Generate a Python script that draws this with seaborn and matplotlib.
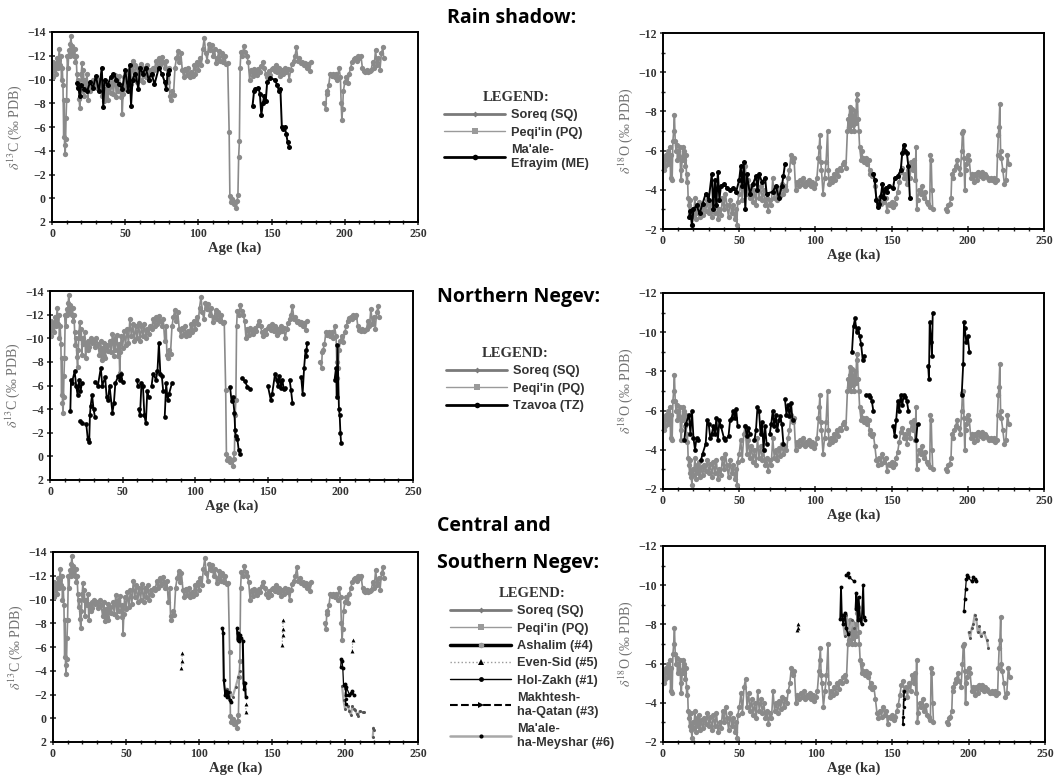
import numpy as np
import pandas as pd
import matplotlib
matplotlib.use('Agg')
import matplotlib.pyplot as plt
from matplotlib.lines import Line2D
from matplotlib.ticker import MultipleLocator
import seaborn as sns

nan = np.nan

# ---- Soreq (SQ) : gray curve 0-177 ka ----
sq_age_c = [0, 0.5, 1, 1.5, 2, 3, 3.5, 4, 5, 5.5, 6, 6.5, 7, 7.5, 8, 8.3, 8.6, 9, 9.3, 9.6, 10, 10.5, 11, 11.5, 12, 12.5,
            13, 13.5, 14, 15, 15.5, 16, 16.5, 17, 17.5, 18, 18.5, 19, 19.5, 20, 20.5, 21, 21.5, 22, 22.5, 23, 24, 24.5,
            25, 26, 26.5, 27, 28, 29, 30, 31, 32, 33, 34, 35, 35.5, 36, 37, 37.5, 38, 39, 40, 41, 42, 43, 44, 44.5, 45,
            46, 47, 47.5, 48, 48.5, 49, 50, 51, 52, 53, 54, 55, 56, 57, 58, 59, 60, 61, 62, 63, 64, 65, 66, 67, 68, 69,
            70, 71, 72, 73, 74, 75, 76, 77, 78, 79, 80, 80.5, 81, 82, 83, 84, 85, 86, 87, 88, 89, 90, 91, 92, 93, 94,
            95, 96, 97, 98, 99, 100, 101, 102, 103, 104, 105, 106, 107, 108, 109, 110, 111, 112, 113, 114, 115, 116,
            117, 118, 119, 120, 121, 121.5, 122, 123, 124, 125, 126, 126.5, 127, 127.5, 128, 128.5, 129, 130, 131,
            132, 133, 134, 135, 136, 137, 138, 139, 140, 141, 142, 143, 144, 145, 146, 147, 148, 149, 150, 151, 152,
            153, 154, 155, 156, 157, 158, 159, 160, 161, 162, 163, 164, 165, 166, 167, 168, 169, 170, 171, 172, 173,
            174, 175, 176, 177]
sq_d13c = [-11.0, -10.2, -11.5, -10.8, -11.3, -10.5, -11.8, -11.0, -12.6, -11.2, -12.0, -10.0, -11.0, -9.5, -5.2, -8.3,
           -4.5, -3.7, -5.0, -6.8, -8.3, -12.0, -11.0, -12.5, -12.0, -13.0, -13.7, -12.2, -12.8, -12.0, -12.6, -11.5,
           -12.0, -10.5, -9.4, -10.0, -8.4, -7.6, -9.0, -10.5, -11.4, -10.0, -10.8, -8.6, -10.0, -9.5, -10.5, -8.3,
           -9.6, -9.0, -9.8, -9.3, -10.0, -9.6, -9.8, -9.3, -10.0, -9.5, -8.6, -9.8, -8.2, -9.2, -8.5, -9.6, -8.3,
           -9.4, -8.9, -9.8, -8.8, -10.4, -8.5, -10.0, -9.0, -10.3, -8.5, -9.5, -7.1, -8.8, -10.2, -9.2, -10.6, -9.4,
           -10.8, -9.6, -11.6, -10.2, -11.2, -9.8, -11.0, -10.0, -11.3, -9.8, -11.0, -10.2, -11.2, -10.0, -10.8,
           -10.4, -11.0, -10.8, -11.6, -11.0, -11.8, -11.2, -11.9, -11.5, -11.0, -11.6, -9.8, -11.0, -8.6, -8.3,
           -9.0, -8.7, -11.0, -11.8, -12.4, -11.5, -12.2, -10.8, -10.2, -10.9, -10.4, -11.0, -10.2, -10.6, -10.3,
           -11.2, -10.5, -11.5, -10.8, -11.8, -11.2, -12.6, -13.5, -12.2, -11.6, -13.0, -12.5, -12.9, -12.0, -12.6,
           -11.4, -11.8, -12.4, -11.6, -12.2, -11.5, -12.0, -11.3, -11.4, -5.6, -0.2, 0.3, 0.1, 0.5, 0.3, 0.8, 0.2,
           -0.3, -3.5, -4.8, -11.0, -12.3, -12.0, -12.8, -12.3, -12.0, -11.5, -10.0, -10.8, -10.3, -10.9, -10.6,
           -10.4, -10.9, -10.6, -11.1, -11.5, -11.0, -10.5, -10.2, -10.7, -10.4, -10.9, -11.0, -10.7, -11.2, -10.6,
           -11.0, -10.3, -10.8, -10.5, -11.0, -10.6, -10.9, -10.0, -10.8, -11.3, -11.6, -12.0, -12.7, -11.6, -11.8,
           -11.4, -11.5, -11.2, -11.4, -11.0, -11.3, -10.7, -11.5]

sq_age_o = [0, 0.5, 1, 1.5, 2, 3, 3.5, 4, 4.5, 5, 5.5, 6, 6.5, 7, 7.5, 8, 8.5, 9, 9.5, 10, 10.5, 11, 11.5, 12, 12.5, 13,
            13.5, 14, 14.5, 15, 15.5, 16, 16.5, 17, 17.5, 18, 18.5, 19, 19.5, 20, 21, 21.5, 22, 23, 23.5, 24, 25, 26,
            27, 28, 29, 30, 31, 32, 33, 34, 35, 36, 37, 38, 39, 40, 41, 42, 43, 44, 45, 46, 47, 48, 48.5, 49, 50, 51,
            52, 53, 54, 55, 56, 57, 58, 59, 60, 61, 62, 63, 64, 65, 66, 67, 68, 69, 70, 71, 72, 73, 74, 75, 76, 77,
            78, 79, 80, 81, 82, 83, 84, 85, 86, 87, 88, 89, 90, 91, 92, 93, 94, 95, 96, 97, 98, 99, 100, 101, 102,
            102.5, 103, 103.5, 104, 105, 106, 107, 108, 108.5, 109, 110, 111, 112, 113, 114, 115, 116, 117, 118, 119,
            120, 121, 121.5, 122, 122.5, 123, 123.5, 124, 124.5, 125, 125.5, 126, 126.5, 127, 127.5, 128, 128.5, 129,
            130, 130.5, 131, 132, 133, 134, 135, 135.5, 136, 137, 138, 139, 140, 141, 142, 143, 144, 145, 146, 147,
            148, 149, 150, 151, 152, 153, 154, 155, 156, 157, 158, 159, 160, 161, 162, 163, 164, 165, 165.5, 166,
            166.5, 167, 168, 169, 170, 171, 172, 173, 174, 175, 175.5, 176, 176.5, 177]
sq_d18o = [-5.5, -5.0, -5.6, -5.2, -5.8, -5.3, -6.0, -5.5, -6.2, -4.6, -5.8, -4.5, -6.5, -7.0, -7.8, -6.5, -6.0, -6.3,
           -5.5, -6.0, -5.7, -6.2, -5.0, -4.5, -5.5, -6.2, -5.5, -6.0, -5.2, -5.8, -4.4, -4.8, -3.6, -3.2, -2.8, -3.5,
           -2.6, -2.2, -3.0, -2.7, -3.6, -2.5, -3.2, -2.8, -3.4, -2.6, -3.1, -2.7, -3.2, -2.9, -3.5, -2.8, -3.3, -2.6,
           -3.4, -2.8, -3.5, -2.5, -3.0, -2.7, -3.6, -3.0, -3.8, -3.2, -2.6, -3.5, -2.8, -3.2, -2.5, -3.0, -2.2, -3.4,
           -3.8, -4.5, -3.5, -4.8, -5.2, -3.8, -4.5, -3.6, -4.2, -3.4, -4.0, -3.2, -4.6, -3.6, -4.2, -3.5, -4.0, -3.2,
           -3.6, -2.9, -3.5, -3.2, -4.6, -3.6, -4.0, -3.5, -4.1, -3.7, -4.3, -3.8, -4.2, -4.0, -4.6, -5.0, -5.8, -5.4,
           -5.6, -4.0, -4.4, -4.2, -4.5, -4.3, -4.6, -4.2, -4.4, -4.3, -4.5, -4.2, -4.4, -4.1, -4.3, -4.6, -5.6, -6.2,
           -6.8, -5.4, -5.0, -3.8, -4.6, -5.4, -7.0, -5.0, -4.3, -4.6, -4.4, -4.8, -4.5, -5.0, -4.7, -5.1, -5.0, -5.3,
           -5.4, -5.1, -7.0, -7.6, -7.2, -8.2, -7.8, -7.0, -8.1, -7.3, -7.8, -7.0, -8.0, -7.4, -8.6, -8.9, -7.6, -7.0,
           -6.2, -5.5, -6.0, -5.6, -5.4, -5.6, -5.3, -5.5, -4.8, -5.0, -4.7, -4.8, -4.2, -3.5, -3.2, -3.6, -3.3, -3.8,
           -3.4, -3.6, -2.9, -3.3, -3.2, -3.4, -3.1, -3.3, -3.6, -3.9, -4.4, -4.9, -5.1, -4.6, -4.8, -4.3, -5.0, -4.6,
           -5.4, -5.0, -5.5, -4.5, -6.2, -3.0, -3.5, -4.0, -3.8, -4.2, -3.6, -3.9, -3.4, -3.3, -3.1, -5.8, -5.5, -4.0,
           -3.0]

# ---- Peqi'in (PQ) : gray curve 186-227 ka ----
pq_age_c = [186, 187, 187.5, 188, 189, 190, 191, 192, 193, 194, 195, 196, 197, 197.5, 198, 198.5, 199, 200, 201, 202,
            203, 204, 205, 206, 207, 208, 209, 210, 211, 212, 213, 214, 215, 216, 217, 218, 219, 220, 221, 222, 223,
            224, 225, 226, 226.5]
pq_d13c = [-8.0, -7.5, -8.8, -9.0, -9.5, -10.5, -10.3, -10.5, -10.2, -10.5, -10.0, -11.0, -10.2, -8.0, -6.6, -7.5,
           -9.0, -9.8, -10.2, -9.7, -10.5, -11.0, -11.5, -11.7, -11.8, -11.6, -12.0, -11.8, -12.0, -11.0, -10.7, -10.6,
           -10.8, -10.6, -10.7, -10.8, -11.5, -11.0, -12.5, -11.2, -11.8, -10.8, -12.2, -12.7, -11.8]
pq_age_o = [186, 186.5, 187, 188, 189, 189.5, 190, 191, 192, 193, 194, 195, 196, 196.5, 197, 197.5, 198, 198.5, 199,
            200, 201, 202, 203, 204, 205, 206, 207, 208, 209, 210, 211, 212, 213, 214, 215, 216, 217, 218, 219, 219.5,
            220, 220.5, 221, 221.5, 222, 223, 224, 225, 226, 227]
pq_d18o = [-3.0, -2.9, -3.2, -3.3, -3.6, -4.8, -4.6, -5.0, -5.2, -5.5, -5.1, -4.8, -6.0, -6.9, -7.0, -5.6, -4.0, -5.0,
           -5.3, -5.8, -5.5, -4.6, -4.8, -4.4, -4.8, -4.5, -4.9, -4.7, -4.9, -4.6, -4.8, -4.7, -4.6, -4.5, -4.6, -4.5,
           -4.6, -4.4, -4.5, -5.8, -6.8, -7.2, -8.4, -6.0, -5.6, -5.0, -4.3, -4.5, -5.8, -5.3]

# ---- Ma'ale-Efrayim (ME) ----
me_age_c = [17, 18, 19, 20, 22, 24, 26, 28, 30, 32, 34, 35, 36, 38, 40, 42, 44, 46, 48, 50, 52, 53, 54, 55, 57, 59, 60,
            62, 64, 66, 68, 70, 73, 75, 77, 78, 79, 80, nan,
            137, 138, 139, 141, 142, 143, 144, 145, 146, 147, 149, 152, 154, 155, 156, 157, 158, 159, 160, 161, 162]
me_d13c = [-9.7, -9.3, -8.6, -9.5, -9.2, -9.0, -9.8, -9.3, -10.3, -9.0, -11.0, -7.7, -10.0, -9.5, -10.2, -10.5, -10.0,
           -9.6, -9.2, -10.8, -9.0, -11.2, -7.8, -10.0, -10.5, -9.2, -11.0, -10.5, -11.0, -10.0, -10.5, -9.6, -11.0,
           -10.5, -9.8, -9.2, -10.5, -10.8, nan,
           -7.8, -9.0, -9.2, -9.3, -8.8, -7.0, -8.0, -8.6, -8.2, -9.8, -10.1, -10.0, -9.5, -9.0, -9.2, -6.0, -5.8,
           -6.0, -5.4, -4.7, -4.3]
me_age_o = [17, 18, 19, 20, 22, 24, 26, 28, 30, 32, 33, 34, 35, 36, 37, 38, 40, 42, 44, 46, 48, 50, 51, 52, 53, 54, 55,
            57, 59, 61, 62, 63, 65, 67, 68, 72, 74, 76, 78, 79, 80, nan,
            138, 139, 140, 141, 142, 143, 144, 145, 146, 147, 148, 151, 152, 154, 156, 157, 158, 159, 160, 161, 162]
me_d18o = [-2.6, -2.9, -2.2, -3.0, -3.2, -2.8, -3.3, -3.8, -3.5, -4.8, -3.0, -4.5, -3.2, -4.9, -3.5, -4.2, -4.3, -4.1,
           -4.0, -4.1, -3.9, -4.5, -5.2, -4.2, -5.4, -3.0, -4.8, -3.8, -4.3, -4.7, -4.0, -4.8, -4.4, -4.6, -3.8, -3.9,
           -4.2, -3.6, -4.2, -4.7, -5.3, nan,
           -4.8, -4.5, -3.5, -3.1, -3.3, -3.7, -4.3, -3.6, -4.1, -3.9, -4.2, -4.1, -4.6, -4.7, -5.0, -5.9, -6.3, -6.0,
           -5.9, -5.2, -3.6]

# ---- Tzavoa (TZ) ----
tz_age_c = [14, 14.5, 15, 17, 18, 19, 20, 21, 22, nan, 21, 22, nan,
            25, 26, 27, 27.5, 28, 29, 30, 31, nan,
            31, 33, 35, 36, 38, 39, 40, 41, 43, 44, 45, 47, 48, 49, 50, nan, 60, 60.5, nan,
            61, 62, 63, 64, 65, 66, 67, 68, nan, 70, 71, 73, 74, 75, 76, 77, 78, nan,
            79, 80, 81, 82, 84, nan, 124, 125, 126, 127, 127.5, 128, 129, 130, 131, nan,
            132, 134, 136, 138, nan, 150, 152, 153, 155, 156, 157, 158, 159, 160, 161, 162, nan,
            165, 166, 167, nan, 173, 174, 175, 176, 176.5, 177, nan,
            196, 197, 197.5, 198, 199, 199.5, 200, 200.5]
tz_d13c = [-3.8, -6.5, -6.2, -7.2, -6.0, -5.2, -6.5, -5.5, -6.2, nan, -3.0, -2.8, nan,
           -2.7, -1.5, -1.2, -3.5, -4.3, -5.2, -4.0, -3.3, nan,
           -6.3, -6.0, -7.5, -6.0, -6.7, -5.0, -4.8, -6.0, -3.7, -4.5, -6.2, -6.8, -6.5, -7.0, -6.3, nan, -6.5, -6.0,
           nan,
           -4.0, -3.5, -6.2, -6.0, -3.5, -2.8, -5.5, -5.0, nan, -6.0, -7.0, -6.5, -7.2, -9.6, -7.0, -6.8, -5.5, nan,
           -3.3, -6.2, -4.8, -5.3, -6.2, nan, -5.9, -4.7, -5.0, -3.7, -2.2, -1.7, -1.5, -0.5, -0.2, nan,
           -6.6, -6.4, -5.9, -5.7, nan, -6.0, -4.8, -5.3, -7.0, -6.5, -6.0, -6.8, -5.8, -6.5, -5.7, -5.8, nan,
           -6.5, -5.6, -4.5, nan, -6.7, -5.3, -7.5, -9.0, -8.5, -9.6, nan,
           -6.5, -7.5, -5.0, -9.4, -4.0, -3.5, -2.0, -1.1]
tz_age_o = [14, 15, 17, 18, 19, 20, 21, 22, 23, nan,
            25, 26, 28, 29, 30, 31, 32, 33, 34, 35, 36, 37, 38, 40, 41, 43, 44, 45, 46, 47, 48, 49, nan,
            54, 55, 56, 57, nan, 60, 61, 62, 63, 64, 65, 66, 67, 68, nan,
            70, 71, 72, 73, 74, 75, 76, 77, 78, 79, nan, 80, 81, 82, 83, 84, 85, nan,
            124, 125, 126, 127, 128, 129, 130, 131, 132, nan, 133, 135, 136, 137, 138, nan,
            151, 152, 153, 154, 155, 156, 157, 158, 159, 160, 161, nan, 166, 167, nan,
            174, 174.5, 175, 176, 176.5, 177, nan, 196, 197, 197.5, 198, 199, 200, 201]
tz_d18o = [-4.5, -5.3, -5.8, -4.8, -6.0, -4.6, -4.0, -4.6, -4.5, nan,
           -3.5, -3.8, -4.3, -5.5, -5.3, -4.6, -4.8, -5.2, -4.8, -5.6, -4.5, -5.5, -5.2, -4.6, -4.5, -4.7, -5.5, -5.6,
           -6.0, -5.6, -6.1, -5.2, nan,
           -5.2, -4.7, -5.1, -4.8, nan, -4.5, -5.0, -6.2, -6.0, -4.8, -5.4, -4.0, -5.2, -4.3, nan,
           -4.8, -5.3, -6.0, -5.2, -5.8, -5.0, -5.5, -5.7, -5.3, -4.3, nan, -6.6, -5.8, -6.3, -5.7, -6.4, -5.5, nan,
           -9.0, -10.3, -10.7, -10.0, -10.2, -9.8, -9.4, -8.6, -8.8, nan, -6.8, -6.8, -6.7, -6.5, -6.0, nan,
           -5.2, -4.7, -5.5, -6.5, -6.0, -6.8, -6.3, -6.8, -6.7, -6.5, -6.0, nan, -4.5, -5.3, nan,
           -8.3, -7.6, -10.5, -9.5, -8.8, -11.0, nan, -6.8, -8.4, -10.5, -10.2, -9.5, -9.8, -9.0]

# ---- Central and Southern Negev sites ----
ash_age_c = [116, 116.5, 117, 118, 118.5, 119, 120, 121, 122, nan,
             126, 126.5, 127, 127.5, 128, 129, 130, 130.5, 131, 131.5, 132]
ash_d13c = [-7.6, -7.2, -3.2, -2.0, -2.3, -1.8, -2.2, -1.5, -1.4, nan,
            -7.6, -6.6, -7.2, -6.5, -7.0, -6.8, -6.5, -3.0, -2.5, -3.0, -1.8]
ash_age_o = [116, 116.5, 117, 118, 119, 120, 121, nan,
             126, 126.5, 127, 127.5, 128, 129, 130, 131, 131.5, 132]
ash_d18o = [-8.3, -9.9, -8.5, -8.0, -8.6, -7.8, -7.5, nan,
            -8.8, -9.6, -9.0, -8.2, -9.4, -8.3, -8.0, -10.0, -8.4, -8.2]

es_age_c = [88, 88.3, 88.6, nan, 132, 132.2, nan, 157, 157.2, 157.4, 157.6, nan, 205, 205.3]
es_d13c = [-4.2, -4.8, -5.5, nan, -0.5, -1.2, nan, -6.2, -7.0, -7.5, -8.3, nan, -5.7, -6.6]
es_age_o = [88, 88.3, 88.5]
es_d18o = [-7.7, -8.0, -7.8]

hz_age_c = [197, 197.5, 198, 198.5, 199, 200, 200.5, 201, 203, 204, 205, 206]
hz_d13c = [-4.3, -5.0, -4.8, -4.2, -2.8, -2.9, -2.0, -2.6, -2.0, -2.1, -2.3, -2.0]
hz_age_o = [120, 121, 122, 125, nan, 197, 197.5, 198, 198.5, 199, 199.5, 202, 203, 204, 205]
hz_d18o = [-10.5, -10.6, -10.4, -10.2, nan, -8.7, -9.3, -9.8, -10.3, -10.5, -10.4, -10.2, -10.4, -10.3, -10.2]

mq_age_c = [200, 200.5, 201]
mq_d13c = [-2.8, -1.2, -1.6]
mq_age_o = [157, 157.2, 157.4, 157.6, 157.8]
mq_d18o = [-2.9, -3.3, -3.8, -4.2, -4.6]

mm_age_c = [118, 119, 121, 123, 125, 127, 128, nan,
            198, 199, 200, 201, 202, 203, 204, 205, 206, 207, 208, 209, 210, 212, 213, nan, 219, 219.5, 220]
mm_d13c = [-2.0, -2.5, -2.2, -1.8, -2.6, -3.5, -4.0, nan,
           -2.7, -1.5, -0.8, -1.2, -1.0, -0.6, -0.3, -1.0, -0.8, -0.7, -0.4, -0.2, -0.6, -0.5, -0.5, nan,
           1.6, 0.8, 1.0]
mm_age_o = [118, 119, 120, 122, 124, 125, nan,
            200, 201, 202, 203, 204, 205, 206, 207, 208, 210, 212, 213]
mm_d18o = [-8.0, -7.4, -8.5, -7.6, -8.2, -7.8, nan,
           -7.6, -7.3, -7.8, -8.0, -8.5, -8.3, -7.6, -7.9, -7.4, -7.6, -7.2, -6.8]

GRAY = '#8a8a8a'
LIGHT = '#a8a8a8'

sns.set_theme(style='white')
plt.rcParams['font.family'] = ['Liberation Serif', 'DejaVu Serif']
plt.rcParams['mathtext.fontset'] = 'stix'

W, H = 1055, 784
fig = plt.figure(figsize=(W / 100, H / 100), dpi=100)


def px(x0, y0, x1, y1):
    return [x0 / W, 1 - y1 / H, (x1 - x0) / W, (y1 - y0) / H]


def draw(ax, age, val, color, lw=1.0, marker='o', ms=3, ls='-', mcolor=None):
    d = pd.DataFrame({'age': age, 'val': val})
    d['seg'] = d['val'].isna().cumsum()
    d = d.dropna()
    sns.lineplot(data=d, x='age', y='val', units='seg', estimator=None, sort=False, ax=ax,
                 color=color, lw=lw, marker=marker, markersize=ms, markeredgewidth=0,
                 markerfacecolor=mcolor or color, linestyle=ls, legend=False)


def style_axes(ax, iso):
    ax.set_xlim(0, 250)
    ax.xaxis.set_major_locator(MultipleLocator(50))
    ax.xaxis.set_minor_locator(MultipleLocator(10))
    if iso == 'c':
        ax.set_ylim(2, -14)
        ax.set_yticks(range(-14, 3, 2))
        ax.set_ylabel(r'$\delta^{13}$C (‰ PDB)', color='#707070', fontsize=10, labelpad=2)
    else:
        ax.set_ylim(-2, -12)
        ax.set_yticks(range(-12, -1, 2))
        ax.yaxis.set_minor_locator(MultipleLocator(1))
        ax.set_ylabel(r'$\delta^{18}$O (‰ PDB)', color='#707070', fontsize=10, labelpad=2)
    ax.set_xlabel('Age (ka)', fontsize=10.5, fontweight='bold', color='#333333', labelpad=1)
    ax.tick_params(which='major', direction='inout', length=5, width=1.1, labelsize=8.5,
                   labelcolor='#333333', pad=2, bottom=True, left=True)
    ax.tick_params(which='minor', direction='inout', length=3, width=1, bottom=True, left=(iso == 'o'))
    for lab in ax.get_xticklabels() + ax.get_yticklabels():
        lab.set_fontweight('bold')
    for s in ax.spines.values():
        s.set_linewidth(1.4)
        s.set_color('black')


boxes = {
    (0, 'c'): px(52, 32, 418, 222), (0, 'o'): px(663, 33, 1044, 229),
    (1, 'c'): px(50, 291, 413, 480), (1, 'o'): px(663, 293, 1044, 489),
    (2, 'c'): px(53, 552, 418, 742), (2, 'o'): px(663, 546, 1045, 742),
}

for row in range(3):
    for iso in ['c', 'o']:
        ax = fig.add_axes(boxes[(row, iso)])
        if iso == 'c':
            draw(ax, sq_age_c, sq_d13c, GRAY, lw=1.2, ms=3.8)
            draw(ax, pq_age_c, pq_d13c, GRAY, lw=1.2, ms=3.8)
        else:
            draw(ax, sq_age_o, sq_d18o, GRAY, lw=1.2, ms=3.8)
            draw(ax, pq_age_o, pq_d18o, GRAY, lw=1.2, ms=3.8)
        if row == 0:
            if iso == 'c':
                draw(ax, me_age_c, me_d13c, 'black', lw=1.4, ms=3.6)
            else:
                draw(ax, me_age_o, me_d18o, 'black', lw=1.4, ms=3.6)
        elif row == 1:
            if iso == 'c':
                draw(ax, tz_age_c, tz_d13c, 'black', lw=1.3, ms=3.4)
            else:
                draw(ax, tz_age_o, tz_d18o, 'black', lw=1.3, ms=3.4)
        else:
            if iso == 'c':
                draw(ax, mm_age_c, mm_d13c, LIGHT, lw=1.6, ms=2.2, mcolor='#555555')
                draw(ax, ash_age_c, ash_d13c, 'black', lw=1.5, ms=2.8)
                draw(ax, hz_age_c, hz_d13c, 'black', lw=0.9, ms=2.8)
                draw(ax, mq_age_c, mq_d13c, 'black', lw=1.0, ms=2.5, ls='--')
                draw(ax, es_age_c, es_d13c, GRAY, lw=0.8, marker='^', ms=2.8, ls=':', mcolor='black')
            else:
                draw(ax, mm_age_o, mm_d18o, LIGHT, lw=1.6, ms=2.2, mcolor='#555555')
                draw(ax, ash_age_o, ash_d18o, 'black', lw=1.3, ms=2.8)
                draw(ax, hz_age_o, hz_d18o, 'black', lw=0.9, ms=2.8)
                draw(ax, mq_age_o, mq_d18o, 'black', lw=1.2, ms=2.5, ls='--')
                draw(ax, es_age_o, es_d18o, GRAY, lw=0.8, marker='^', ms=2.8, ls=':', mcolor='black')
        style_axes(ax, iso)

# ---- section titles ----
tkw = dict(fontsize=14, fontweight='bold', family=['Open Sans', 'DejaVu Sans'], color='black',
           ha='left', va='center')
fig.text(447 / W, 1 - 18 / H, 'Rain shadow:', **tkw)
fig.text(437 / W, 1 - 297 / H, 'Northern Negev:', **tkw)
fig.text(437 / W, 1 - 526 / H, 'Central and', **tkw)
fig.text(437 / W, 1 - 563 / H, 'Southern Negev:', **tkw)


# ---- legends ----
def h(color, lw, marker, ms, ls='-', mcolor=None):
    return Line2D([], [], color=color, lw=lw, marker=marker, markersize=ms, linestyle=ls,
                  markerfacecolor=mcolor or color, markeredgewidth=0)


sq_h = h('#7a7a7a', 2.0, 'D', 3)
pq_h = h('#9a9a9a', 1.0, 's', 4)


def legend(handles, labels, x, y):
    lg = fig.legend(handles, labels, loc='upper left', bbox_to_anchor=(x / W, 1 - y / H),
                    frameon=False, title='LEGEND:', handlelength=4.8, handletextpad=0.45,
                    labelspacing=0.42, borderpad=0, borderaxespad=0,
                    prop={'family': ['Liberation Sans', 'DejaVu Sans'], 'size': 9.2, 'weight': 'bold'},
                    title_fontproperties={'family': 'Liberation Serif', 'size': 10.5, 'weight': 'bold'})
    for t in lg.get_texts():
        t.set_color('#333333')
    lg.get_title().set_color('#333333')
    return lg


legend([sq_h, pq_h, h('black', 2.0, 'o', 4)],
       ['Soreq (SQ)', "Peqi'in (PQ)", "Ma'ale-\nEfrayim (ME)"], 444, 91)
legend([sq_h, pq_h, h('black', 2.0, 'o', 4)],
       ['Soreq (SQ)', "Peqi'in (PQ)", 'Tzavoa (TZ)'], 446, 347)
legend([sq_h, pq_h, h('black', 2.5, 'o', 4, mcolor='#999999'),
        h('#999999', 1.0, '^', 4, ls=':', mcolor='black'), h('black', 1.0, 'o', 3.5),
        h('black', 1.5, '>', 4, ls='--'), h(LIGHT, 1.8, 'o', 3, mcolor='black')],
       ['Soreq (SQ)', "Peqi'in (PQ)", 'Ashalim (#4)', 'Even-Sid (#5)', 'Hol-Zakh (#1)',
        'Makhtesh-\nha-Qatan (#3)', "Ma'ale-\nha-Meyshar (#6)"], 450, 587)

fig.savefig('out.png', dpi=100)
